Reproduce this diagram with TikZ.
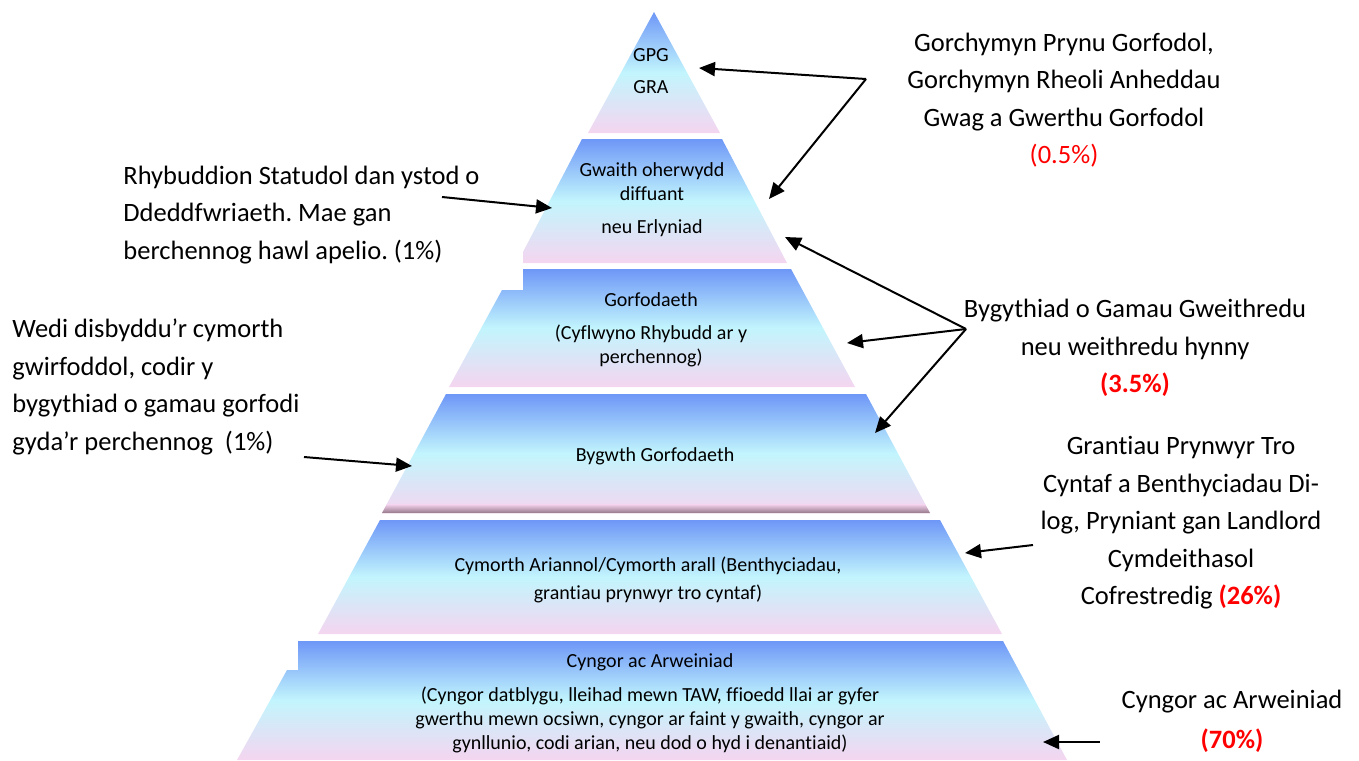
\documentclass[tikz,border=0pt]{standalone}
\usepackage{fontspec}
\setmainfont{Carlito}[Ligatures=NoCommon]
\usepackage{xcolor}
\usepackage{tikz}
\usetikzlibrary{arrows.meta}
\definecolor{TopBlue}{RGB}{110,151,247}
\definecolor{PaleCyan}{RGB}{194,245,253}
\definecolor{SoftPink}{RGB}{245,213,240}
\definecolor{ShadeMauve}{RGB}{150,120,138}
\definecolor{PctRed}{RGB}{255,0,0}
\frenchspacing

\begin{document}
\begin{tikzpicture}[x=0.5pt,y=-0.5pt,
		band/.style={top color=TopBlue,bottom color=SoftPink,middle color=PaleCyan},
		arr/.style={-{Triangle[length=8pt,width=7pt]},line width=1pt},
		ptxt/.style={font=\fontsize{10}{12}\selectfont,align=center,inner sep=0pt},
		otxt/.style={font=\fontsize{13.25}{18.75}\selectfont,align=center,inner sep=0pt}]
		\useasboundingbox (0,0) rectangle (1359,760);
		
		% 金字塔六层，自上而下
		\shade[band] (654,12)--(720,133)--(588,133)--cycle;
		\shade[band] (582,139)--(722,139)--(787,263)--(523,263)--(523,252)--cycle;
		\shade[band] (523,269)--(791,269)--(855,387)--(449,387)--(502,290)--(523,290)--cycle;
		\shade[band] (446,394)--(866,394)--(930,513)--(382,513)--cycle;
		\shade[top color=SoftPink,bottom color=ShadeMauve] (387,504)--(925,504)--(930,513)--(382,513)--cycle;
		\shade[band] (380,520)--(940,520)--(1002,634)--(318,634)--cycle;
		\shade[band] (298,641)--(1003,641)--(1067,760)--(237,760)--(287,670)--(298,670)--cycle;
		
		% 层内文字
		\node[ptxt] (gpg) at (651,71) {GPG\\[4pt]GRA};
		\node[ptxt] (gwaith) at (652,200) {Gwaith oherwydd\\diffuant\\[4.5pt]neu Erlyniad};
		\node[ptxt] (gorfod) at (651,330) {Gorfodaeth\\[4.5pt](Cyflwyno Rhybudd ar y\\perchennog)};
		\node[ptxt] (bygwth) at (655,456) {Bygwth Gorfodaeth};
		\node[ptxt] (cymorth) at (648,580) {Cymorth Ariannol/Cymorth arall (Benthyciadau,\\[2pt]grantiau prynwyr tro cyntaf)};
		\node[ptxt] (cyngor) at (650,703) {Cyngor ac Arweiniad\\[5pt](Cyngor datblygu, lleihad mewn TAW, ffioedd llai ar gyfer\\gwerthu mewn ocsiwn, cyngor ar faint y gwaith, cyngor ar\\gynllunio, codi arian, neu dod o hyd i denantiaid)};
		
		% 两侧说明文字
		\node[otxt] (gorch) at (1064,100) {Gorchymyn Prynu Gorfodol,\\Gorchymyn Rheoli Anheddau\\Gwag a Gwerthu Gorfodol\\\textcolor{PctRed}{(0.5\%)}};
		\node[otxt,align=left,anchor=west] (rhyb) at (123,215) {Rhybuddion Statudol dan ystod o\\Ddeddfwriaeth. Mae gan\\berchennog hawl apelio. (1\%)};
		\node[otxt,align=left,anchor=west] (wedi) at (12,387) {Wedi disbyddu’r cymorth\\gwirfoddol, codir y\\bygythiad o gamau gorfodi\\gyda’r perchennog\ \ (1\%)};
		\node[otxt] (bygyth) at (1135,348) {Bygythiad o Gamau Gweithredu\\neu weithredu hynny\\\textcolor{PctRed}{\textbf{(3.5\%)}}};
		\node[otxt] (grant) at (1181,523) {Grantiau Prynwyr Tro\\Cyntaf a Benthyciadau Di-\\log, Pryniant gan Landlord\\Cymdeithasol\\Cofrestredig \textcolor{PctRed}{\textbf{(26\%)}}};
		\node[otxt] (arwein) at (1232,721) {Cyngor ac Arweiniad\\[1.25pt]\textcolor{PctRed}{\textbf{(70\%)}}};
		
		% 箭头端点
		\coordinate (jGorch) at (866,79);
		\coordinate (tGpg) at (699,68);
		\coordinate (tGwaith) at (769,199);
		\coordinate (sRhyb) at (442,197);
		\coordinate (tRhyb) at (552,208);
		\coordinate (sWedi) at (304,457);
		\coordinate (tWedi) at (412,466);
		\coordinate (jBygyth) at (966,329);
		\coordinate (tBand2) at (785,237);
		\coordinate (tBand3) at (847,343);
		\coordinate (tBand4) at (875,433);
		\coordinate (sGrant) at (1033,545);
		\coordinate (tGrant) at (965,553);
		\coordinate (sArwein) at (1100,742);
		\coordinate (tArwein) at (1043,742);
		
		% 箭头
		\draw[arr] (jGorch)--(tGpg);
		\draw[arr] (jGorch)--(tGwaith);
		\draw[arr] (sRhyb)--(tRhyb);
		\draw[arr] (sWedi)--(tWedi);
		\draw[arr] (jBygyth)--(tBand2);
		\draw[arr] (jBygyth)--(tBand3);
		\draw[arr] (jBygyth)--(tBand4);
		\draw[arr] (sGrant)--(tGrant);
		\draw[arr] (sArwein)--(tArwein);
	\end{tikzpicture}
\end{document}
